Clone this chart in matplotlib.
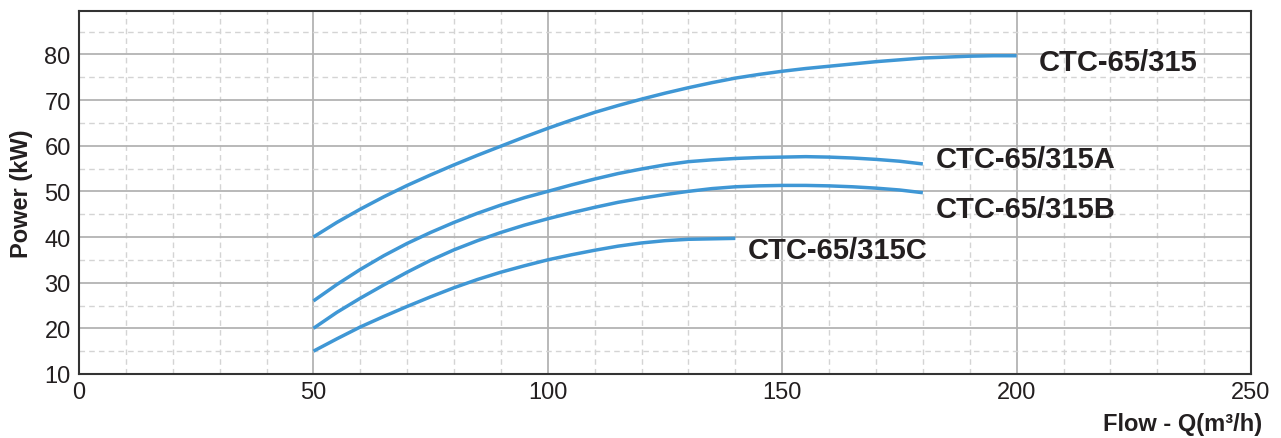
import matplotlib
matplotlib.use("Agg")
import matplotlib.pyplot as plt
from matplotlib.ticker import MultipleLocator

plt.rcParams['font.family'] = ['Liberation Sans', 'DejaVu Sans']

# Flow (m3/h) and power (kW), every 5 m3/h
flow_315 = [50, 55, 60, 65, 70, 75, 80, 85, 90, 95, 100, 105, 110, 115, 120, 125,
            130, 135, 140, 145, 150, 155, 160, 165, 170, 175, 180, 185, 190, 195, 200]
power_315 = [40.0, 43.2, 46.1, 48.8, 51.3, 53.6, 55.8, 57.9, 59.9, 61.9, 63.8, 65.6,
             67.3, 68.8, 70.2, 71.5, 72.7, 73.8, 74.8, 75.6, 76.3, 76.9, 77.4, 77.9,
             78.4, 78.8, 79.2, 79.4, 79.6, 79.7, 79.7]

flow_315a = [50, 55, 60, 65, 70, 75, 80, 85, 90, 95, 100, 105, 110, 115, 120, 125,
             130, 135, 140, 145, 150, 155, 160, 165, 170, 175, 180]
power_315a = [26.0, 29.6, 32.9, 35.9, 38.6, 41.0, 43.2, 45.2, 47.0, 48.6, 50.0, 51.4,
              52.7, 53.9, 54.9, 55.8, 56.5, 56.9, 57.2, 57.4, 57.5, 57.6, 57.5, 57.3,
              57.0, 56.6, 56.0]

flow_315b = [50, 55, 60, 65, 70, 75, 80, 85, 90, 95, 100, 105, 110, 115, 120, 125,
             130, 135, 140, 145, 150, 155, 160, 165, 170, 175, 180]
power_315b = [20.0, 23.5, 26.6, 29.5, 32.3, 34.9, 37.2, 39.2, 41.0, 42.6, 44.0, 45.3,
              46.5, 47.6, 48.5, 49.3, 50.0, 50.6, 51.0, 51.2, 51.3, 51.3, 51.2, 51.0,
              50.7, 50.3, 49.7]

flow_315c = [50, 55, 60, 65, 70, 75, 80, 85, 90, 95, 100, 105, 110, 115, 120, 125,
             130, 135, 140]
power_315c = [15.0, 17.7, 20.3, 22.6, 24.8, 26.9, 28.9, 30.7, 32.3, 33.7, 35.0, 36.1,
              37.1, 38.0, 38.7, 39.2, 39.5, 39.6, 39.7]

labels = ["CTC-65/315", "CTC-65/315A", "CTC-65/315B", "CTC-65/315C"]
# label anchor (flow, power) at the text baseline
label_pos = [(204.8, 76.5), (182.7, 55.3), (182.7, 44.3), (142.6, 35.5)]

line_color = "#3f97d5"
text_color = "#231f20"

fig = plt.figure(figsize=(12.81, 4.39), dpi=100)
ax = fig.add_axes([0.0617, 0.1458, 0.9149, 0.8269])

series = [(flow_315, power_315), (flow_315a, power_315a),
          (flow_315b, power_315b), (flow_315c, power_315c)]
for (q, p), name, (lx, ly) in zip(series, labels, label_pos):
    ax.plot(q, p, color=line_color, lw=2.5, solid_capstyle='butt',
            solid_joinstyle='round', zorder=3)
    ax.text(lx, ly, name, fontsize=21, fontweight='bold', color=text_color,
            ha='left', va='baseline', zorder=4)

ax.set_xlim(0, 250)
ax.set_ylim(10, 89.5)
ax.xaxis.set_major_locator(MultipleLocator(50))
ax.xaxis.set_minor_locator(MultipleLocator(10))
ax.yaxis.set_major_locator(MultipleLocator(10))
ax.yaxis.set_minor_locator(MultipleLocator(5))

# Solid major grid, dashed minor grid
ax.grid(True, which='major', color='#b3b3b3', lw=1.3, linestyle='-', zorder=1)
ax.grid(True, which='minor', color='#d4d4d4', lw=1.0, linestyle=(0, (4, 3)), zorder=1)
ax.set_axisbelow(True)

ax.tick_params(which='both', length=0, labelsize=17, colors=text_color)
ax.tick_params(axis='y', pad=6)
ax.tick_params(axis='x', pad=5)

for s in ax.spines.values():
    s.set_color('#333333')
    s.set_linewidth(1.5)

ax.set_ylabel("Power (kW)", fontsize=17, fontweight='bold', color=text_color, labelpad=8)
fig.text(0.985, 0.032, "Flow - Q(m³/h)", fontsize=17, fontweight='bold',
         color=text_color, ha='right', va='center')

fig.savefig("out.png", dpi=100)
